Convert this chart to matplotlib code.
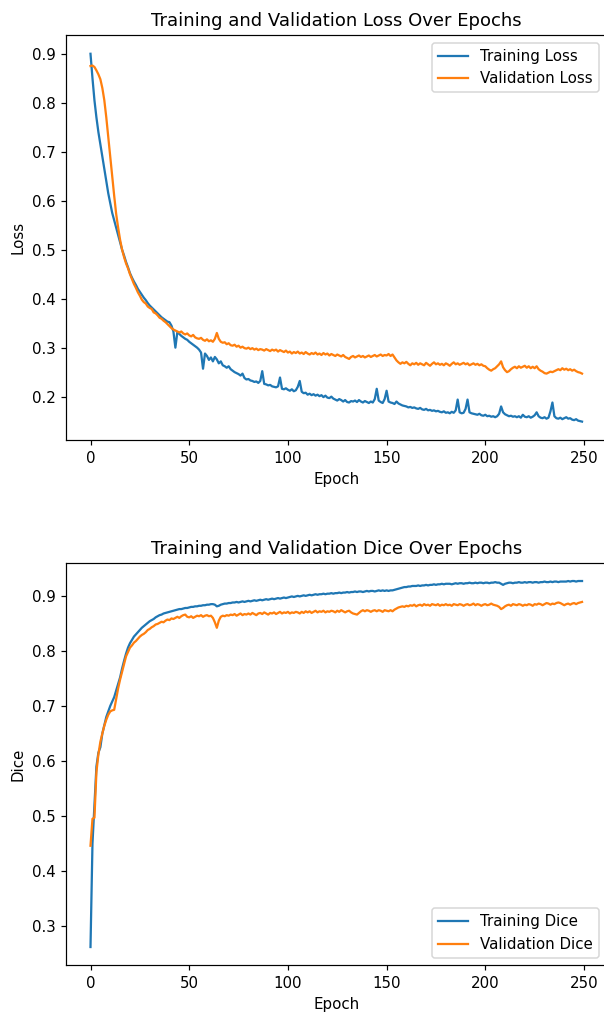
import matplotlib
matplotlib.use("Agg")
import matplotlib.pyplot as plt

# per-epoch history (epochs 0..249)
train_loss = [
    0.900, 0.850, 0.805, 0.770, 0.740, 0.715, 0.690, 0.665, 0.640, 0.615,
    0.595, 0.575, 0.560, 0.545, 0.530, 0.515, 0.500, 0.488, 0.475, 0.464,
    0.452, 0.443, 0.435, 0.428, 0.420, 0.414, 0.408, 0.402, 0.397, 0.391,
    0.386, 0.382, 0.378, 0.374, 0.370, 0.366, 0.362, 0.359, 0.356, 0.353,
    0.352, 0.345, 0.333, 0.300, 0.332, 0.328, 0.324, 0.321, 0.318, 0.316,
    0.312, 0.309, 0.306, 0.303, 0.300, 0.296, 0.290, 0.257, 0.288, 0.283,
    0.275, 0.280, 0.272, 0.281, 0.276, 0.268, 0.272, 0.264, 0.262, 0.259,
    0.262, 0.256, 0.253, 0.250, 0.248, 0.246, 0.243, 0.247, 0.238, 0.235,
    0.236, 0.233, 0.232, 0.230, 0.231, 0.228, 0.232, 0.252, 0.226, 0.225,
    0.223, 0.224, 0.221, 0.220, 0.219, 0.221, 0.239, 0.216, 0.215, 0.217,
    0.214, 0.212, 0.215, 0.211, 0.213, 0.220, 0.232, 0.210, 0.207, 0.208,
    0.204, 0.206, 0.203, 0.205, 0.202, 0.204, 0.201, 0.203, 0.199, 0.202,
    0.198, 0.197, 0.200, 0.196, 0.194, 0.192, 0.195, 0.193, 0.190, 0.193,
    0.189, 0.188, 0.191, 0.190, 0.192, 0.189, 0.193, 0.190, 0.188, 0.191,
    0.189, 0.187, 0.190, 0.188, 0.195, 0.216, 0.192, 0.189, 0.187, 0.195,
    0.212, 0.190, 0.188, 0.187, 0.185, 0.190, 0.186, 0.184, 0.182, 0.181,
    0.180, 0.178, 0.179, 0.177, 0.178, 0.176, 0.175, 0.177, 0.174, 0.173,
    0.175, 0.172, 0.173, 0.171, 0.172, 0.170, 0.171, 0.169, 0.168, 0.170,
    0.167, 0.168, 0.166, 0.169, 0.167, 0.172, 0.194, 0.168, 0.166, 0.167,
    0.175, 0.194, 0.168, 0.166, 0.165, 0.164, 0.163, 0.165, 0.162, 0.161,
    0.163, 0.160, 0.161, 0.159, 0.160, 0.158, 0.160, 0.165, 0.180, 0.168,
    0.164, 0.162, 0.160, 0.161, 0.159, 0.160, 0.158, 0.160, 0.157, 0.163,
    0.159, 0.158, 0.160, 0.157, 0.159, 0.162, 0.168, 0.160, 0.157, 0.156,
    0.158, 0.155, 0.157, 0.170, 0.188, 0.160, 0.156, 0.155, 0.157, 0.154,
    0.156, 0.158, 0.155, 0.156, 0.153, 0.152, 0.154, 0.151, 0.150, 0.149,
]

val_loss = [
    0.875, 0.876, 0.873, 0.866, 0.858, 0.848, 0.830, 0.805, 0.770, 0.730,
    0.690, 0.650, 0.610, 0.573, 0.545, 0.520, 0.500, 0.485, 0.472, 0.462,
    0.450, 0.440, 0.430, 0.422, 0.413, 0.406, 0.398, 0.393, 0.390, 0.384,
    0.381, 0.379, 0.372, 0.370, 0.366, 0.361, 0.359, 0.355, 0.352, 0.348,
    0.344, 0.340, 0.337, 0.335, 0.333, 0.331, 0.333, 0.329, 0.327, 0.329,
    0.325, 0.323, 0.326, 0.321, 0.319, 0.318, 0.320, 0.316, 0.314, 0.317,
    0.313, 0.315, 0.312, 0.318, 0.330, 0.318, 0.312, 0.310, 0.311, 0.307,
    0.309, 0.305, 0.304, 0.306, 0.302, 0.304, 0.300, 0.302, 0.299, 0.298,
    0.300, 0.297, 0.299, 0.296, 0.298, 0.295, 0.297, 0.296, 0.294, 0.297,
    0.295, 0.293, 0.296, 0.294, 0.296, 0.292, 0.295, 0.293, 0.291, 0.294,
    0.290, 0.292, 0.288, 0.291, 0.289, 0.292, 0.288, 0.290, 0.287, 0.291,
    0.288, 0.286, 0.289, 0.287, 0.290, 0.286, 0.288, 0.285, 0.289, 0.286,
    0.288, 0.284, 0.287, 0.285, 0.283, 0.286, 0.284, 0.282, 0.285, 0.281,
    0.279, 0.277, 0.281, 0.283, 0.280, 0.282, 0.284, 0.281, 0.283, 0.280,
    0.282, 0.284, 0.281, 0.283, 0.285, 0.282, 0.284, 0.286, 0.283, 0.285,
    0.284, 0.287, 0.283, 0.286, 0.280, 0.274, 0.270, 0.267, 0.270, 0.268,
    0.271, 0.267, 0.264, 0.268, 0.266, 0.269, 0.265, 0.268, 0.266, 0.264,
    0.269, 0.266, 0.263, 0.267, 0.270, 0.266, 0.268, 0.265, 0.267, 0.264,
    0.268, 0.266, 0.263, 0.267, 0.270, 0.266, 0.268, 0.265, 0.267, 0.269,
    0.266, 0.268, 0.264, 0.266, 0.268, 0.265, 0.267, 0.264, 0.266, 0.263,
    0.262, 0.258, 0.255, 0.253, 0.256, 0.258, 0.262, 0.266, 0.272, 0.260,
    0.254, 0.250, 0.252, 0.256, 0.259, 0.261, 0.258, 0.262, 0.259, 0.261,
    0.263, 0.259, 0.262, 0.258, 0.261, 0.258, 0.262, 0.256, 0.253, 0.251,
    0.248, 0.247, 0.249, 0.251, 0.250, 0.252, 0.254, 0.256, 0.254, 0.258,
    0.255, 0.257, 0.254, 0.256, 0.253, 0.255, 0.252, 0.250, 0.249, 0.247,
]

train_dice = [
    0.262, 0.450, 0.520, 0.590, 0.615, 0.625, 0.650, 0.665, 0.680, 0.690,
    0.700, 0.708, 0.716, 0.728, 0.740, 0.752, 0.768, 0.782, 0.795, 0.806,
    0.814, 0.820, 0.826, 0.830, 0.834, 0.838, 0.842, 0.845, 0.848, 0.851,
    0.854, 0.856, 0.858, 0.861, 0.863, 0.865, 0.866, 0.868, 0.869, 0.870,
    0.871, 0.872, 0.873, 0.874, 0.875, 0.876, 0.876, 0.877, 0.878, 0.878,
    0.879, 0.880, 0.880, 0.881, 0.881, 0.882, 0.882, 0.883, 0.883, 0.884,
    0.884, 0.885, 0.885, 0.884, 0.881, 0.882, 0.884, 0.885, 0.886, 0.886,
    0.887, 0.887, 0.888, 0.888, 0.889, 0.888, 0.889, 0.890, 0.889, 0.890,
    0.891, 0.890, 0.891, 0.892, 0.891, 0.892, 0.893, 0.892, 0.893, 0.894,
    0.893, 0.894, 0.895, 0.894, 0.895, 0.896, 0.895, 0.896, 0.897, 0.896,
    0.897, 0.898, 0.899, 0.898, 0.899, 0.900, 0.899, 0.900, 0.901, 0.900,
    0.901, 0.902, 0.901, 0.902, 0.903, 0.902, 0.903, 0.903, 0.904, 0.903,
    0.904, 0.904, 0.905, 0.904, 0.905, 0.905, 0.906, 0.905, 0.906, 0.906,
    0.907, 0.906, 0.907, 0.907, 0.908, 0.907, 0.908, 0.908, 0.907, 0.908,
    0.909, 0.908, 0.909, 0.909, 0.908, 0.909, 0.910, 0.909, 0.910, 0.909,
    0.910, 0.909, 0.910, 0.910, 0.911, 0.912, 0.913, 0.914, 0.915, 0.916,
    0.916, 0.917, 0.917, 0.918, 0.918, 0.918, 0.919, 0.918, 0.919, 0.919,
    0.920, 0.919, 0.920, 0.920, 0.921, 0.920, 0.921, 0.921, 0.922, 0.921,
    0.922, 0.922, 0.922, 0.921, 0.922, 0.923, 0.922, 0.923, 0.923, 0.922,
    0.923, 0.923, 0.924, 0.923, 0.923, 0.924, 0.923, 0.924, 0.924, 0.923,
    0.924, 0.924, 0.923, 0.924, 0.924, 0.925, 0.924, 0.924, 0.922, 0.920,
    0.922, 0.923, 0.924, 0.924, 0.923, 0.924, 0.924, 0.925, 0.924, 0.924,
    0.925, 0.924, 0.925, 0.925, 0.924, 0.925, 0.925, 0.924, 0.925, 0.925,
    0.926, 0.925, 0.925, 0.926, 0.925, 0.926, 0.926, 0.925, 0.926, 0.926,
    0.926, 0.926, 0.927, 0.926, 0.927, 0.927, 0.926, 0.927, 0.927, 0.927,
]

val_dice = [
    0.446, 0.495, 0.497, 0.580, 0.612, 0.635, 0.650, 0.664, 0.675, 0.684,
    0.690, 0.692, 0.693, 0.712, 0.732, 0.748, 0.762, 0.776, 0.790, 0.798,
    0.806, 0.810, 0.815, 0.818, 0.822, 0.826, 0.829, 0.831, 0.834, 0.838,
    0.840, 0.843, 0.845, 0.848, 0.849, 0.851, 0.853, 0.852, 0.855, 0.857,
    0.856, 0.859, 0.858, 0.860, 0.862, 0.860, 0.863, 0.865, 0.866, 0.862,
    0.861, 0.863, 0.860, 0.862, 0.864, 0.863, 0.865, 0.862, 0.864, 0.865,
    0.863, 0.864, 0.860, 0.852, 0.842, 0.855, 0.862, 0.864, 0.863, 0.865,
    0.864, 0.866, 0.865, 0.867, 0.864, 0.866, 0.868, 0.865, 0.867, 0.866,
    0.868, 0.866, 0.869, 0.867, 0.865, 0.868, 0.869, 0.867, 0.870, 0.868,
    0.866, 0.869, 0.868, 0.870, 0.867, 0.869, 0.871, 0.868, 0.870, 0.869,
    0.871, 0.868, 0.870, 0.869, 0.871, 0.870, 0.868, 0.871, 0.869, 0.872,
    0.870, 0.872, 0.869, 0.871, 0.873, 0.870, 0.872, 0.871, 0.873, 0.870,
    0.872, 0.871, 0.873, 0.872, 0.870, 0.873, 0.871, 0.874, 0.872, 0.870,
    0.872, 0.873, 0.870, 0.868, 0.867, 0.866, 0.869, 0.872, 0.874, 0.872,
    0.874, 0.873, 0.871, 0.873, 0.874, 0.872, 0.874, 0.873, 0.871, 0.874,
    0.873, 0.872, 0.874, 0.872, 0.875, 0.877, 0.879, 0.880, 0.881, 0.880,
    0.882, 0.881, 0.883, 0.882, 0.884, 0.881, 0.883, 0.884, 0.882, 0.885,
    0.883, 0.884, 0.882, 0.885, 0.884, 0.883, 0.885, 0.882, 0.884, 0.883,
    0.885, 0.883, 0.884, 0.882, 0.885, 0.884, 0.883, 0.885, 0.884, 0.882,
    0.884, 0.885, 0.883, 0.884, 0.886, 0.883, 0.885, 0.884, 0.882, 0.884,
    0.885, 0.883, 0.884, 0.886, 0.884, 0.883, 0.882, 0.880, 0.876, 0.878,
    0.881, 0.883, 0.884, 0.882, 0.885, 0.884, 0.883, 0.885, 0.884, 0.882,
    0.884, 0.883, 0.885, 0.884, 0.882, 0.885, 0.884, 0.886, 0.885, 0.883,
    0.885, 0.887, 0.886, 0.884, 0.886, 0.885, 0.887, 0.888, 0.887, 0.885,
    0.883, 0.885, 0.886, 0.884, 0.886, 0.887, 0.885, 0.887, 0.888, 0.889,
]

epochs = list(range(len(train_loss)))


def plot_history():
    # source image is a slightly enlarged default figure, so render at 108 dpi
    fig = plt.figure(figsize=(5.6, 9.39), dpi=108)

    # the right edge of the source was cropped right at the axes border
    ax1 = fig.add_axes([0.109, 0.566, 0.894, 0.399])
    ax1.plot(epochs, train_loss, label="Training Loss")
    ax1.plot(epochs, val_loss, label="Validation Loss")
    ax1.set_title("Training and Validation Loss Over Epochs")
    ax1.set_xlabel("Epoch")
    ax1.set_ylabel("Loss")
    ax1.legend(loc="upper right")
    ax1.spines["right"].set_visible(False)

    ax2 = fig.add_axes([0.109, 0.048, 0.894, 0.397])
    ax2.plot(epochs, train_dice, label="Training Dice")
    ax2.plot(epochs, val_dice, label="Validation Dice")
    ax2.set_title("Training and Validation Dice Over Epochs")
    ax2.set_xlabel("Epoch")
    ax2.set_ylabel("Dice")
    ax2.legend(loc="lower right")
    ax2.spines["right"].set_visible(False)

    fig.savefig("out.png", dpi=108)


plot_history()
